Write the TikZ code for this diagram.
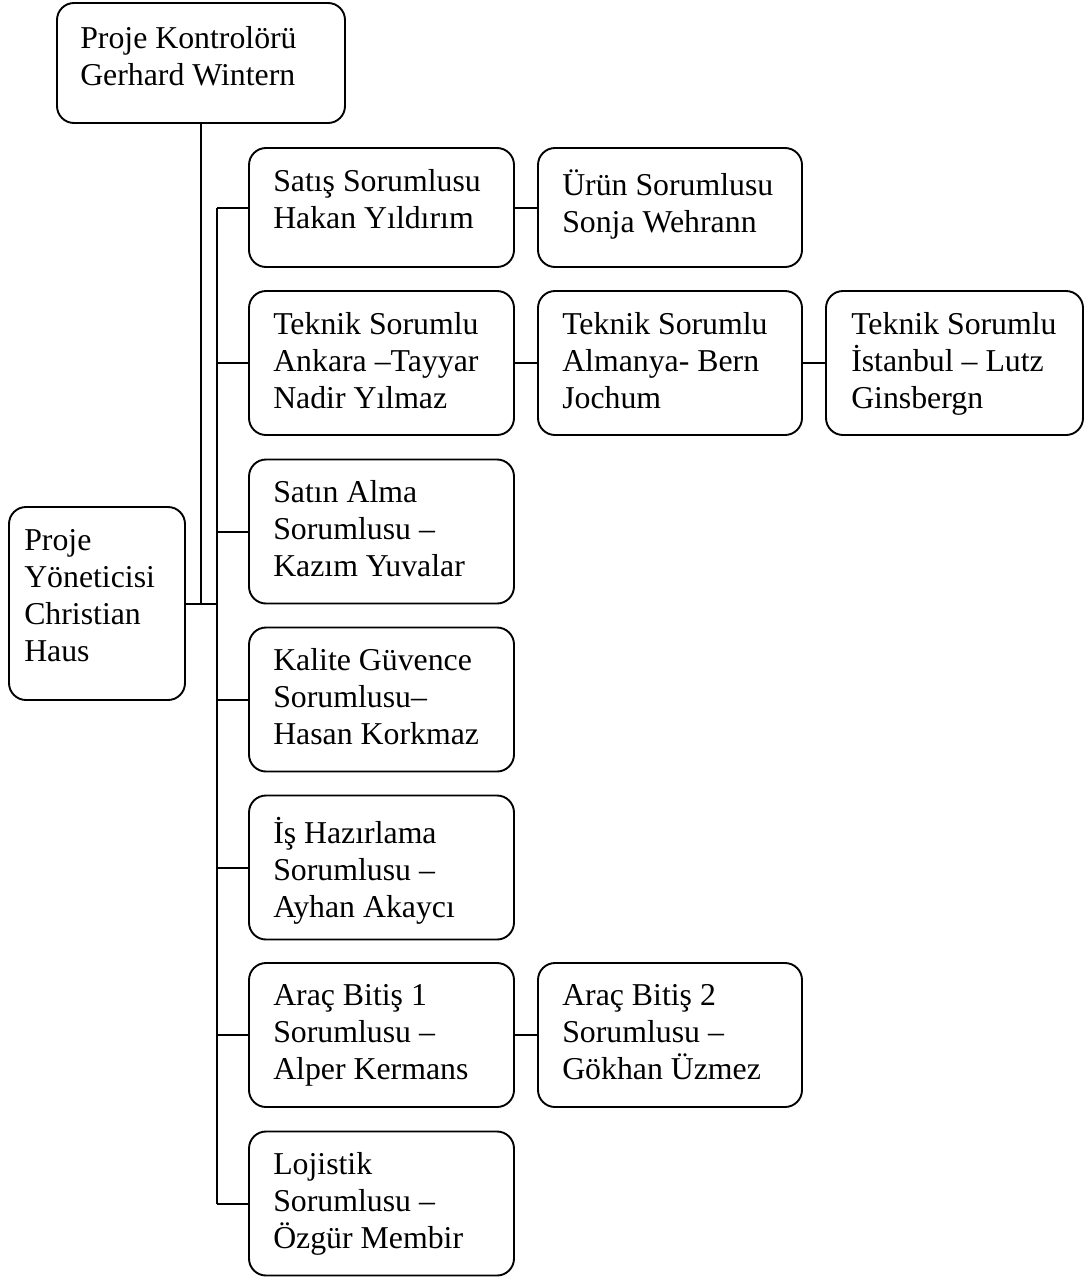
\documentclass[tikz,border=0pt]{standalone}
\usepackage{fontspec}
\setmainfont{Liberation Serif}
\begin{document}
\begin{tikzpicture}[x=1pt,y=-1pt]
\tikzset{
  box/.style={draw, line width=1.9pt, rounded corners=17pt, inner sep=0pt},
  colA/.style={minimum width=265pt},
  colB/.style={minimum width=264pt},
  colC/.style={minimum width=257pt},
  rowshort/.style={minimum height=119pt},
  rowtall/.style={minimum height=144pt},
  txt/.style={anchor=north west, inner sep=0pt, align=left,
    font=\fontsize{31.8pt}{37pt}\selectfont,
    execute at begin node={\rule{0pt}{30pt}}},
  link/.style={line width=2pt}
}
\useasboundingbox (0,0) rectangle (1085,1277);

% boxes
\node[box, minimum width=288pt, minimum height=120pt] (kontrol) at (201,63) {};
\node[box, minimum width=176pt, minimum height=193pt] (yonetici) at (97,603.5) {};
\node[box,colA,rowshort] (satis) at (381.5,207.5) {};
\node[box,colB,rowshort] (urun) at (670,207.5) {};
\node[box,colA,rowtall] (ankara) at (381.5,363) {};
\node[box,colB,rowtall] (almanya) at (670,363) {};
\node[box,colC,rowtall] (istanbul) at (954.5,363) {};
\node[box,colA,rowtall] (satin) at (381.5,531.5) {};
\node[box,colA,rowtall] (kalite) at (381.5,699.5) {};
\node[box,colA,rowtall] (hazir) at (381.5,867.5) {};
\node[box,colA,rowtall] (arac1) at (381.5,1035) {};
\node[box,colB,rowtall] (arac2) at (670,1035) {};
\node[box,colA,rowtall] (lojistik) at (381.5,1203.5) {};

% texts
\node[txt] (kontrol-t) at ([shift={(24,24)}]kontrol.north west) {Proje Kontrolörü\\Gerhard Wintern};
\node[txt] (yonetici-t) at ([shift={(16,23)}]yonetici.north west) {Proje\\Yöneticisi\\Christian\\Haus};
\node[txt] (satis-t) at ([shift={(25,22)}]satis.north west) {Satış Sorumlusu\\Hakan Yıldırım};
\node[txt] (urun-t) at ([shift={(25,22)}]urun.north west) {Ürün Sorumlusu\\Sonja Wehrann};
\node[txt] (ankara-t) at ([shift={(25,22)}]ankara.north west) {Teknik Sorumlu\\Ankara –Tayyar\\Nadir Yılmaz};
\node[txt] (almanya-t) at ([shift={(25,22)}]almanya.north west) {Teknik Sorumlu\\Almanya- Bern\\Jochum};
\node[txt] (istanbul-t) at ([shift={(26,22)}]istanbul.north west) {Teknik Sorumlu\\İstanbul – Lutz\\Ginsbergn};
\node[txt] (satin-t) at ([shift={(25,22)}]satin.north west) {Satın Alma\\Sorumlusu –\\Kazım Yuvalar};
\node[txt] (kalite-t) at ([shift={(25,22)}]kalite.north west) {Kalite Güvence\\Sorumlusu–\\Hasan Korkmaz};
\node[txt] (hazir-t) at ([shift={(25,22)}]hazir.north west) {İş Hazırlama\\Sorumlusu –\\Ayhan Akaycı};
\node[txt] (arac1-t) at ([shift={(25,22)}]arac1.north west) {Araç Bitiş 1\\Sorumlusu –\\Alper Kermans};
\node[txt] (arac2-t) at ([shift={(25,22)}]arac2.north west) {Araç Bitiş 2\\Sorumlusu –\\Gökhan Üzmez};
\node[txt] (lojistik-t) at ([shift={(25,22)}]lojistik.north west) {Lojistik\\Sorumlusu –\\Özgür Membir};

% connectors
\coordinate (spine) at (217,0);
\draw[link] (kontrol.south) -- (kontrol.south |- yonetici.east);
\draw[link] (yonetici.east) -- (yonetici.east -| spine);
\draw[link] (satis.west -| spine) -- (lojistik.west -| spine);
\foreach \b in {satis,ankara,satin,kalite,hazir,arac1,lojistik}
  \draw[link] (\b.west -| spine) -- (\b.west);
\draw[link] (satis.east) -- (urun.west);
\draw[link] (ankara.east) -- (almanya.west);
\draw[link] (almanya.east) -- (istanbul.west);
\draw[link] (arac1.east) -- (arac2.west);
\end{tikzpicture}
\end{document}
